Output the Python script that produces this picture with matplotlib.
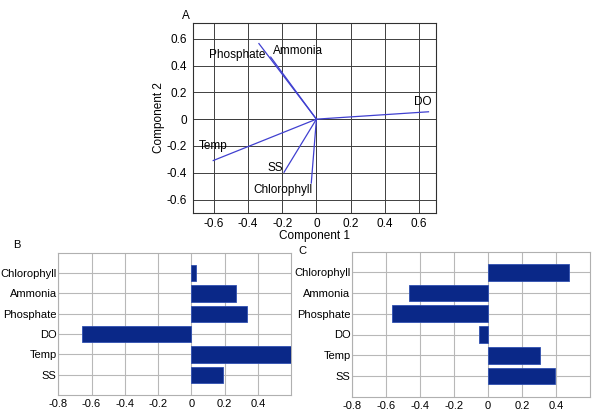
import matplotlib
matplotlib.use("Agg")
import matplotlib.pyplot as plt

plt.rcParams['font.family'] = ['Liberation Sans', 'DejaVu Sans']
plt.rcParams['axes.unicode_minus'] = False

# Variables (bottom to top in bar panels)
variables = ["SS", "Temp", "DO", "Phosphate", "Ammonia", "Chlorophyll"]
# Panel B loadings
loadings_b = [0.189, 0.603, -0.655, 0.336, 0.267, 0.030]
# Panel C loadings
loadings_c = [0.396, 0.309, -0.055, -0.564, -0.463, 0.477]

# Panel A biplot vector ends (Component 1, Component 2)
biplot_x = [-0.189, -0.603, 0.655, -0.336, -0.267, -0.030]
biplot_y = [-0.396, -0.309, 0.055, 0.564, 0.463, -0.477]
# label offsets (pixels) and alignment
label_offsets = {"SS": (-1, 4, 'right'), "Temp": (-14, 15, 'left'),
                 "DO": (3, 10, 'right'), "Phosphate": (6, -11, 'right'),
                 "Ammonia": (2, 6, 'left'), "Chlorophyll": (1, -7, 'right')}

xticks_a = [-0.6, -0.4, -0.2, 0, 0.2, 0.4, 0.6]
yticks_a = [-0.6, -0.4, -0.2, 0, 0.2, 0.4, 0.6]
xticks_bar = [-0.8, -0.6, -0.4, -0.2, 0, 0.2, 0.4]

def fmt(v):
    return "%g" % v

fig = plt.figure(figsize=(6, 4.2), dpi=100)
fsA = 8.5
fsB = 8

# Panel A
axA = fig.add_axes([0.322, 0.493, 0.405, 0.453])
for x, y, name in zip(biplot_x, biplot_y, variables):
    axA.plot([0, x], [0, y], color='#4040d0', lw=0.9)
    dx, dy, ha = label_offsets[name]
    axA.annotate(name, (x, y), xytext=(dx, dy), textcoords='offset pixels',
                 ha=ha, va='center', fontsize=fsA)
axA.set_xlim(-0.72, 0.70)
axA.set_ylim(-0.70, 0.72)
axA.set_xticks(xticks_a)
axA.set_yticks(yticks_a)
axA.set_xticklabels([fmt(v) for v in xticks_a])
axA.set_yticklabels([fmt(v) for v in yticks_a])
axA.grid(True, color='#404040', lw=0.7)
axA.set_axisbelow(True)
axA.axhline(0, color='black', lw=0.7, zorder=0.5)
axA.axvline(0, color='black', lw=0.7, zorder=0.5)
axA.tick_params(axis='x', length=0, labelsize=fsA, pad=3.5)
axA.tick_params(axis='y', length=0, labelsize=fsA, pad=4.3)
for sp in axA.spines.values():
    sp.set_color('#303030')
    sp.set_linewidth(0.8)
axA.set_xlabel("Component 1", fontsize=fsA, labelpad=0)
axA.set_ylabel("Component 2", fontsize=fsA, labelpad=1.5)
fig.text(0.303, 0.963, "A", fontsize=fsA, ha='left', va='center')

ypos = list(range(1, len(variables) + 1))

def bar_panel(rect, vals, letter, lpos):
    ax = fig.add_axes(rect)
    ax.barh(ypos, vals, height=0.8, color='#0a2888', edgecolor='#3050b0',
            linewidth=0.6, zorder=3)
    ax.set_xlim(-0.8, 0.6)
    ax.set_ylim(0.0, 7.0)
    ax.set_xticks(xticks_bar)
    ax.set_xticklabels([fmt(v) for v in xticks_bar])
    ax.set_yticks(ypos)
    ax.set_yticklabels(variables)
    ax.grid(True, color='#b8b8b8', lw=0.8, zorder=0)
    ax.tick_params(axis='x', length=0, labelsize=fsB, pad=2.9)
    ax.tick_params(axis='y', length=0, labelsize=fsB, pad=1.2)
    for sp in ax.spines.values():
        sp.set_color('#b0b0b0')
        sp.set_linewidth(0.8)
    fig.text(lpos[0], lpos[1], letter, fontsize=fsB, ha='left', va='center')
    return ax

bar_panel([0.0972, 0.0595, 0.3878, 0.3385], loadings_b, "B", (0.022, 0.4155))
bar_panel([0.587, 0.0555, 0.396, 0.3455], loadings_c, "C", (0.497, 0.402))

fig.savefig("out.png", dpi=100)
